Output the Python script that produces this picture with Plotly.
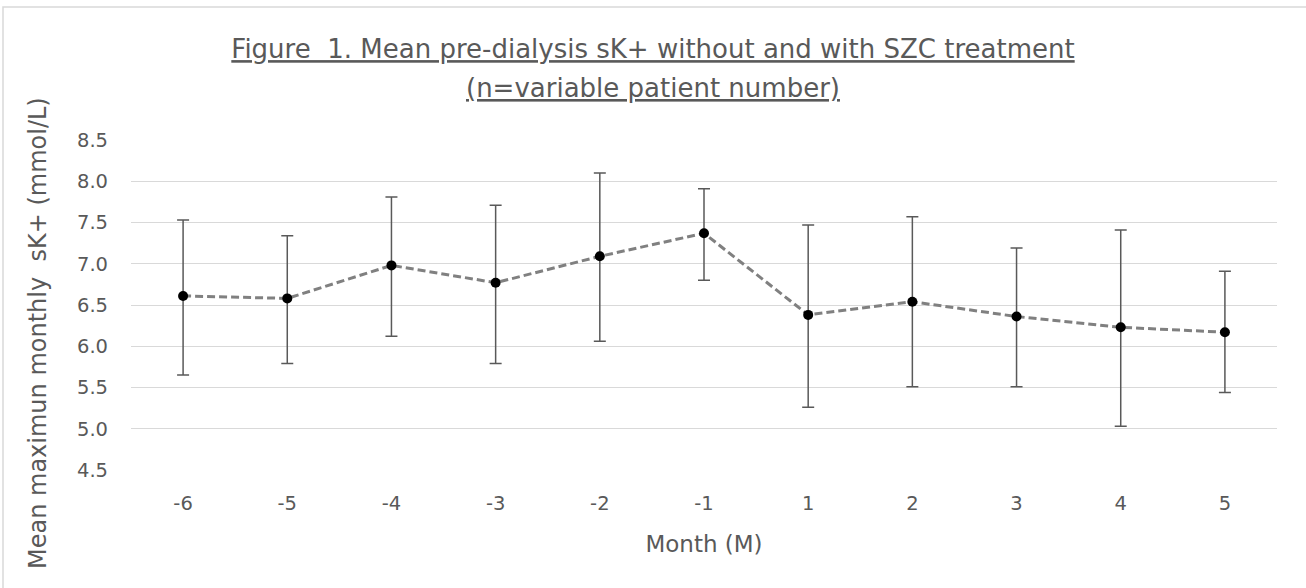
import plotly.graph_objects as go

months = ["-6", "-5", "-4", "-3", "-2", "-1", "1", "2", "3", "4", "5"]
mean_sk = [6.61, 6.58, 6.98, 6.77, 7.09, 7.37, 6.38, 6.54, 6.36, 6.23, 6.17]
err_upper = [7.53, 7.34, 7.81, 7.71, 8.10, 7.91, 7.47, 7.57, 7.19, 7.41, 6.91]
err_lower = [5.65, 5.79, 6.12, 5.79, 6.06, 6.80, 5.26, 5.51, 5.51, 5.03, 5.44]

title_line1 = "Figure\u00a0 1. Mean pre-dialysis sK+ without and with SZC treatment"
title_line2 = "(n=variable patient number)"
x_title = "Month (M)"
y_title = "Mean maximun monthly\u00a0 sK+ (mmol/L)"

err_plus = [u - m for u, m in zip(err_upper, mean_sk)]
err_minus = [m - l for m, l in zip(mean_sk, err_lower)]

GRAY = "#595959"
FONT = "DejaVu Sans"

W, H = 1306, 588
ML, MR, MT, MB = 131, 29, 140, 118
PW, PH = W - ML - MR, H - MT - MB


def px_x(px):
    return (px - ML) / PW


def px_y(py):
    return 1 - (py - MT) / PH


fig = go.Figure()
fig.add_trace(go.Scatter(
    x=months, y=mean_sk, mode="lines+markers",
    line=dict(color="#808080", width=3, dash="8px,4px"),
    marker=dict(color="black", size=10),
    error_y=dict(type="data", symmetric=False, array=err_plus, arrayminus=err_minus,
                 color=GRAY, thickness=1.5, width=6),
    showlegend=False,
    hoverinfo="skip",
))

fig.update_layout(
    width=W, height=H,
    paper_bgcolor="white", plot_bgcolor="white",
    margin=dict(l=ML, r=MR, t=MT, b=MB),
    title=dict(
        text="<u>" + title_line1 + "</u>",
        x=0.5, xanchor="center", xref="container",
        y=1 - 49 / H, yanchor="middle", yref="container",
        font=dict(family=FONT, size=26, color=GRAY),
    ),
    annotations=[
        dict(
            text="<u>" + title_line2 + "</u>", showarrow=False,
            xref="paper", yref="paper", x=px_x(W / 2), y=px_y(88),
            xanchor="center", yanchor="middle",
            font=dict(family=FONT, size=26, color=GRAY),
        ),
        dict(
            text=y_title, showarrow=False, textangle=-90,
            xref="paper", yref="paper", x=px_x(38), y=px_y(333),
            xanchor="center", yanchor="middle",
            font=dict(family=FONT, size=24, color=GRAY),
        ),
    ],
    xaxis=dict(
        type="category", range=[-0.5, 10.5],
        title=dict(text=x_title, font=dict(family=FONT, size=23, color=GRAY), standoff=22),
        tickfont=dict(family=FONT, size=19.5, color=GRAY),
        showgrid=False, showline=False, ticks="", ticklabelstandoff=19,
    ),
    yaxis=dict(
        range=[4.5, 8.5], dtick=0.5, tick0=4.5, tickformat=".1f",
        tickfont=dict(family=FONT, size=19.5, color=GRAY),
        showgrid=True, gridcolor="#d9d9d9", gridwidth=1.2,
        zeroline=False, showline=False, ticks="", ticklabelstandoff=22,
    ),
    shapes=[dict(type="rect", xref="paper", yref="paper",
                 x0=px_x(3), x1=px_x(1320), y0=px_y(610), y1=px_y(7),
                 line=dict(color="#d9d9d9", width=1.5), fillcolor="rgba(0,0,0,0)", layer="below")],
)

fig.write_html("out.html", config={"displayModeBar": False},
               post_script="document.body.style.margin='0px';")
